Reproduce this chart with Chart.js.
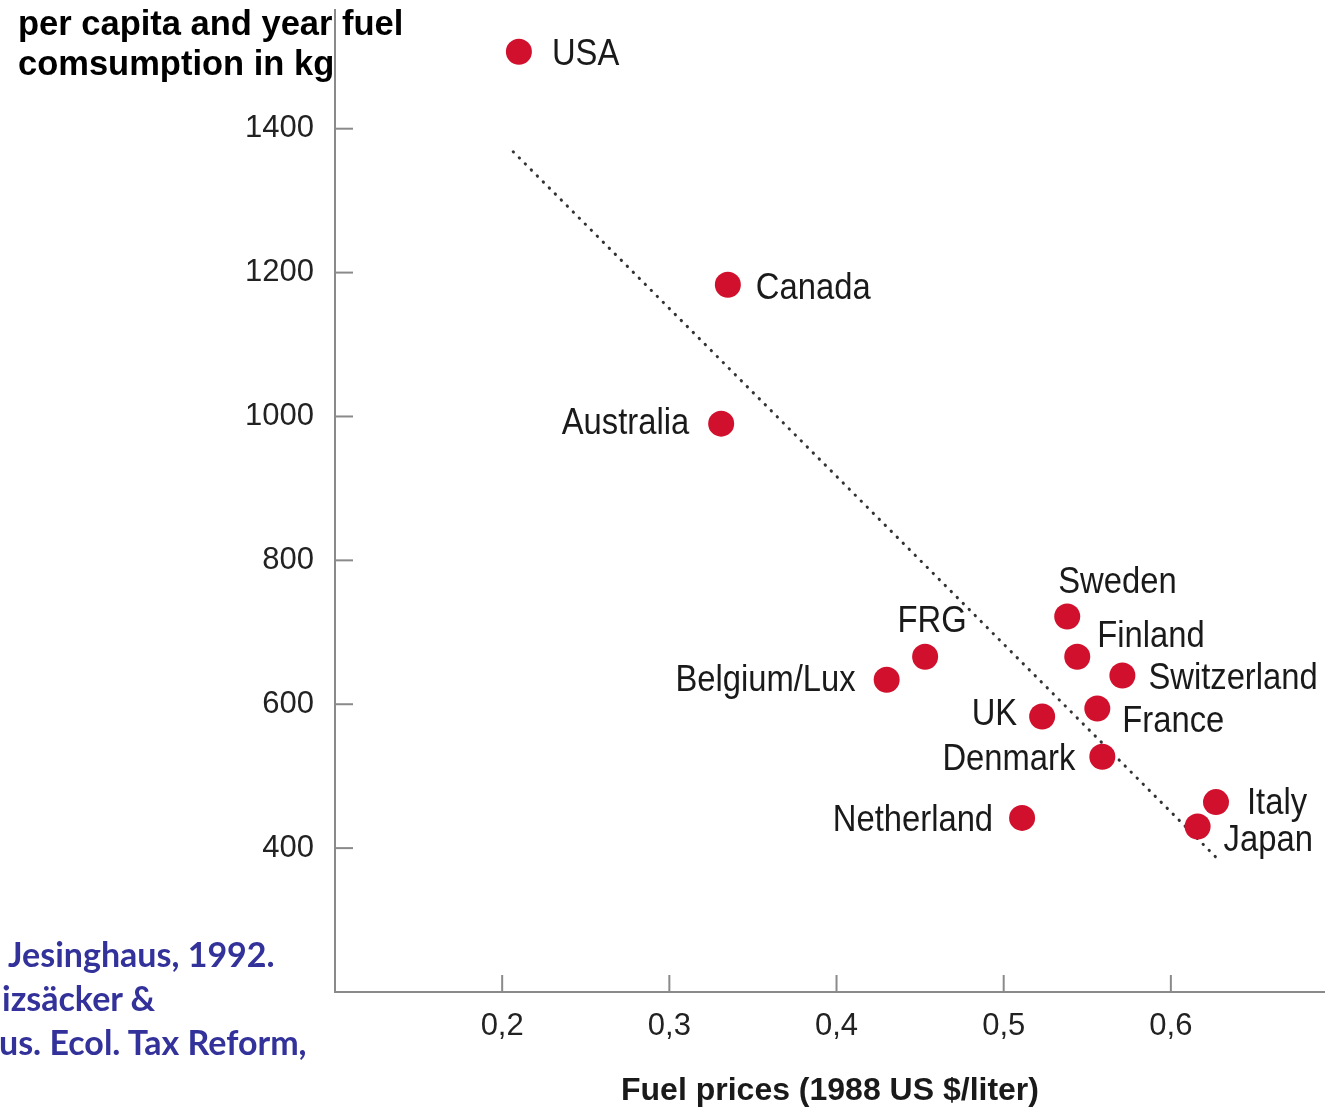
<!DOCTYPE html>
<html>
<head>
<meta charset="utf-8">
<script src="https://cdn.jsdelivr.net/npm/chart.js@4.4.1/dist/chart.umd.min.js"></script>
<style>
  html, body { margin: 0; padding: 0; background: #ffffff; overflow: hidden; }
  #wrap { position: relative; width: 1325px; height: 1109px; }
  #chart { position: absolute; left: 0; top: 0; }
  #title { position: absolute; left: 18px; top: 3px; font: bold 34.5px 'Liberation Sans', Arial, sans-serif; line-height: 40px; color: #000; white-space: nowrap; }
  #source { position: absolute; top: 932px; font: bold 34px Lato, 'Open Sans', sans-serif; line-height: 44px; color: #32329a; white-space: nowrap; }
  #source div { position: relative; }
</style>
</head>
<body>
<div id="wrap">
  <canvas id="chart" width="1325" height="1109"></canvas>
  <div id="title">per capita and year fuel<br>comsumption in kg</div>
  <div id="source">
    <div style="left:8px">Jesinghaus, 1992.</div>
    <div style="left:2px">izsäcker &amp;</div>
    <div style="left:-1px">us. Ecol. Tax Reform,</div>
  </div>
</div>
<script>
// ---- data ----
const countries   = ['USA', 'Canada', 'Australia', 'FRG', 'Belgium/Lux', 'Sweden', 'Finland', 'Switzerland', 'UK', 'France', 'Denmark', 'Netherland', 'Italy', 'Japan'];
const fuelPrices  = [0.21, 0.335, 0.331, 0.453, 0.43, 0.538, 0.544, 0.571, 0.523, 0.556, 0.559, 0.511, 0.627, 0.616];
const consumption = [1507, 1183, 990, 666, 634, 722, 666, 640, 583, 594, 527, 442, 464, 430];
const trendX = [0.2066, 0.628];
const trendY = [1368, 385];
const xTicks = [0.2, 0.3, 0.4, 0.5, 0.6];
const xTickLabels = ['0,2', '0,3', '0,4', '0,5', '0,6'];
const yTicks = [400, 600, 800, 1000, 1200, 1400];
const yTickLabels = ['400', '600', '800', '1000', '1200', '1400'];
const xAxisTitle = 'Fuel prices (1988 US $/liter)';

// ---- label placement (style, not data) ----
const labelPlacement = [
  ['left', 33, 0], ['left', 28, 1], ['right', -32, -3], ['center', 7, -38],
  ['right', -31, -2], ['left', -9, -36], ['left', 20, -23], ['left', 26, 1],
  ['right', -25, -4], ['left', 25, 10], ['right', -27, 0], ['right', -29, 0],
  ['left', 31, -1], ['left', 26, 11]
];

const AXIS_COLOR = '#8a8a8a';
const DOT_COLOR = '#d0102c';
const TEXT_COLOR = '#1a1a1a';

const pointData = fuelPrices.map((x, i) => ({ x: x, y: consumption[i] }));
const trendData = trendX.map((x, i) => ({ x: x, y: trendY[i] }));

const decorations = {
  id: 'decorations',
  afterDatasetsDraw(chart) {
    const ctx = chart.ctx;
    const area = chart.chartArea;
    const xs = chart.scales.x, ys = chart.scales.y;
    // inner tick marks
    ctx.save();
    ctx.strokeStyle = AXIS_COLOR;
    ctx.lineWidth = 2;
    yTicks.forEach(v => {
      const py = ys.getPixelForValue(v);
      ctx.beginPath(); ctx.moveTo(area.left, py); ctx.lineTo(area.left + 18, py); ctx.stroke();
    });
    xTicks.forEach(v => {
      const px = xs.getPixelForValue(v);
      ctx.beginPath(); ctx.moveTo(px, area.bottom); ctx.lineTo(px, area.bottom - 17); ctx.stroke();
    });
    ctx.restore();
    // country labels
    const meta = chart.getDatasetMeta(1);
    ctx.save();
    ctx.fillStyle = TEXT_COLOR;
    ctx.font = '36px "Liberation Sans", Arial, sans-serif';
    ctx.textBaseline = 'alphabetic';
    countries.forEach((name, i) => {
      const el = meta.data[i];
      const p = labelPlacement[i];
      ctx.save();
      ctx.translate(el.x + p[1], el.y + p[2] + 13);
      ctx.scale(0.91, 1);
      ctx.textAlign = p[0];
      ctx.fillText(name, 0, 0);
      ctx.restore();
    });
    ctx.restore();
  }
};

new Chart(document.getElementById('chart'), {
  type: 'scatter',
  data: {
    datasets: [
      {
        type: 'line',
        data: trendData,
        borderColor: '#333333',
        borderWidth: 3,
        borderCapStyle: 'round',
        borderDash: [0.4, 8.1],
        pointRadius: 0,
        fill: false,
        order: 2
      },
      {
        data: pointData,
        backgroundColor: DOT_COLOR,
        borderWidth: 0,
        pointRadius: 13,
        pointHoverRadius: 13,
        order: 1
      }
    ]
  },
  options: {
    responsive: false,
    animation: false,
    layout: { autoPadding: false, padding: { top: 10, left: 0, right: 0, bottom: 0 } },
    plugins: { legend: { display: false }, tooltip: { enabled: false } },
    scales: {
      x: {
        type: 'linear',
        min: 0.1,
        max: 0.6922,
        grid: { display: true, drawOnChartArea: false, drawTicks: false },
        border: { display: true, color: AXIS_COLOR, width: 2 },
        afterBuildTicks: s => { s.ticks = xTicks.map(v => ({ value: v })); },
        afterFit: s => { s.height = 117; s.paddingLeft = 0; s.paddingRight = 0; },
        ticks: {
          padding: 16,
          color: '#222222',
          font: { family: '"Liberation Sans", Arial, sans-serif', size: 31, lineHeight: 1.2 },
          callback: v => { const i = xTicks.findIndex(t => Math.abs(t - v) < 1e-9); return i >= 0 ? xTickLabels[i] : ''; }
        },
        title: {
          display: true,
          text: xAxisTitle,
          color: '#1a1a1a',
          font: { family: '"Liberation Sans", Arial, sans-serif', size: 32, weight: 'bold', lineHeight: 1 },
          padding: { top: 0, bottom: 2 }
        }
      },
      y: {
        type: 'linear',
        min: 200,
        max: 1565,
        grid: { display: true, drawOnChartArea: false, drawTicks: false },
        border: { display: true, color: AXIS_COLOR, width: 2 },
        afterBuildTicks: s => { s.ticks = yTicks.map(v => ({ value: v })); },
        afterFit: s => { s.width = 335; s.paddingTop = 0; s.paddingBottom = 0; },
        ticks: {
          padding: 21,
          color: '#222222',
          font: { family: '"Liberation Sans", Arial, sans-serif', size: 31, lineHeight: 1.2 },
          callback: v => { const i = yTicks.indexOf(v); return i >= 0 ? yTickLabels[i] : ''; }
        }
      }
    }
  },
  plugins: [decorations]
});
</script>
</body>
</html>
